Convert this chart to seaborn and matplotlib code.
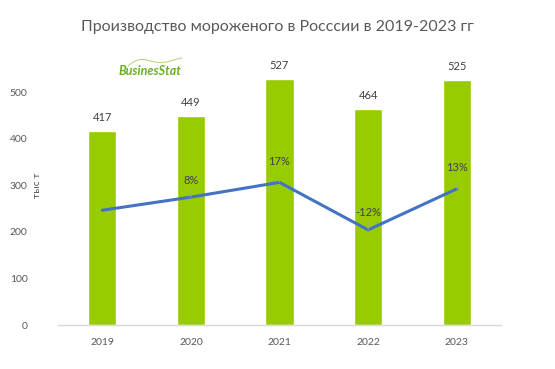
import matplotlib
matplotlib.use("Agg")
import matplotlib.pyplot as plt
import seaborn as sns
import pandas as pd
import numpy as np
from matplotlib.lines import Line2D

years = ["2019", "2020", "2021", "2022", "2023"]
production = [417, 449, 527, 464, 525]
growth = [0, 8, 17, -12, 13]
growth_labels = ["", "8%", "17%", "-12%", "13%"]
yticks = [0, 100, 200, 300, 400, 500]

sns.set_theme(style="white")
plt.rcParams['font.family'] = ['Lato', 'DejaVu Sans']

W, H = 555, 369
fig = plt.figure(figsize=(5.55, 3.69), dpi=100)
ax = fig.add_axes([0.1045, 0.1192, 0.7982, 0.6946])

df = pd.DataFrame({"year": years, "value": production})
sns.barplot(data=df, x="year", y="value", ax=ax, color="#99CC00",
            saturation=1, width=0.32)
ax.set_xlim(-0.5, 4.5)
ax.set_ylim(0, 550)
ax.set_yticks(yticks)
ax.tick_params(axis="both", length=0, labelsize=7.5, colors="#595959")
ax.tick_params(axis="x", pad=9)
ax.tick_params(axis="y", pad=22)
for s in ["top", "right", "left"]:
    ax.spines[s].set_visible(False)
ax.spines["bottom"].set_color("#D9D9D9")
ax.spines["bottom"].set_linewidth(1)
ax.set_xlabel("")
ax.set_ylabel("")
fig.text(38 / W, 1 - 185 / H, "тыс т", rotation=90, ha="center", va="center",
         fontsize=7.5, color="#595959")

for i, v in enumerate(production):
    ax.annotate(str(v), (i, v), xytext=(0, 8), textcoords="offset pixels",
                ha="center", va="bottom", fontsize=8, color="#404040")

ax2 = ax.twinx()
gdf = pd.DataFrame({"x": np.arange(len(years)), "g": growth})
sns.lineplot(data=gdf, x="x", y="g", ax=ax2, color="#4472C4", linewidth=2.2)
ax2.set_ylim(-70, 86.3)
ax2.set_xlim(-0.5, 4.5)
ax2.axis("off")
offs = [0, 17, 21, 17, 21]
for i, (g, lab) in enumerate(zip(growth, growth_labels)):
    if not lab:
        continue
    ax2.annotate(lab, (i, g), xytext=(0, offs[i]), textcoords="offset pixels",
                 ha="center", va="center", fontsize=8, color="#404040",
                 arrowprops=dict(arrowstyle="-", color="#A6A6A6", lw=0.6,
                                 shrinkA=6, shrinkB=0))

fig.text(0.5, 0.927, "Производство мороженого в Росссии в 2019-2023 гг",
         ha="center", va="center", fontsize=11.5, color="#595959")
# logo
t = np.linspace(0, 1, 30)
lx = 128 + 54 * t
ly = 66 - 8 * t - 6 * np.sin(np.pi * t * 2) * (1 - t)
fig.add_artist(Line2D(lx / W, 1 - ly / H, color="#B8D98A", lw=0.8))
fig.text(150 / W, 1 - 71 / H, "BusinesStat", ha="center", va="center",
         fontsize=9, color="#6AAF23", fontweight="bold", style="italic")

fig.savefig("out.png", dpi=100)
